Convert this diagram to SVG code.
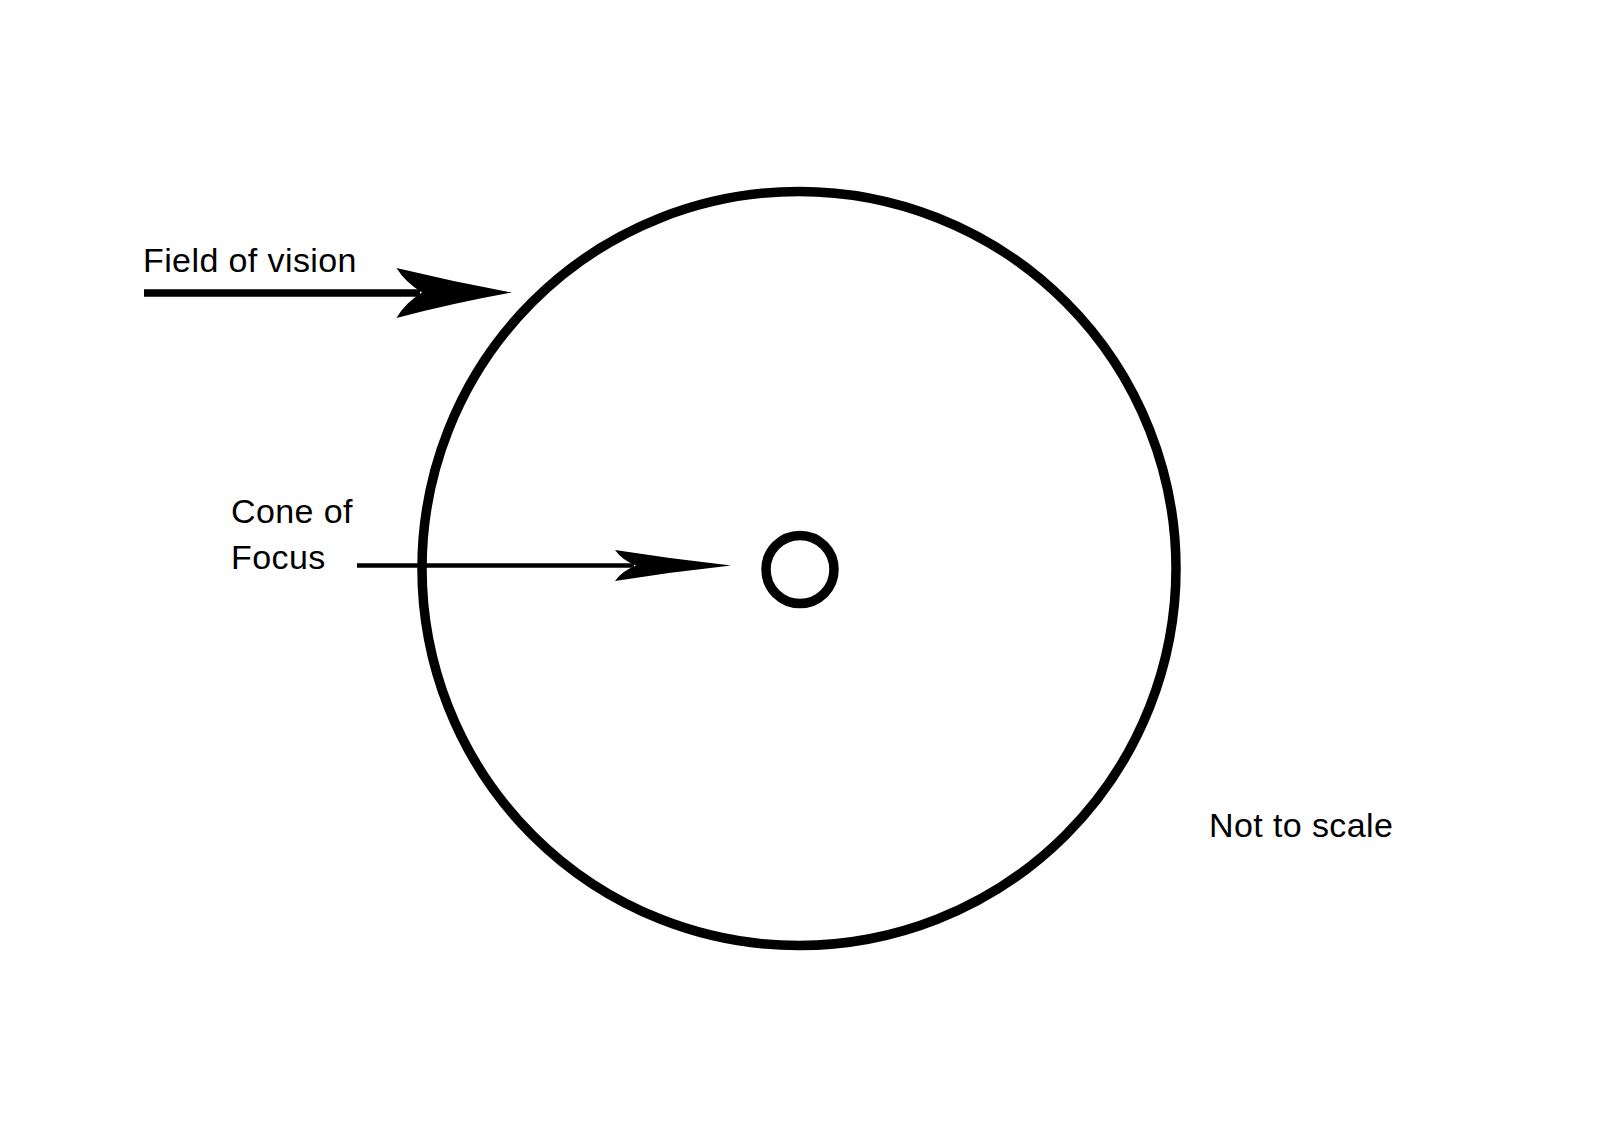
<svg xmlns="http://www.w3.org/2000/svg" width="1600" height="1143" viewBox="0 0 1600 1143">
<style>
.lbl{font-family:"Liberation Sans",Arial,sans-serif;font-size:34px;fill:#000;letter-spacing:0.4px}
.ring{fill:none;stroke:#000}
.shaft{stroke:#000;fill:none}
.head{fill:#000;stroke:none}
</style>
<rect width="1600" height="1143" fill="#fff"/>
<g id="field-of-vision">
<circle class="ring" cx="799" cy="568.5" r="377" stroke-width="9.5"/>
</g>
<g id="cone-of-focus">
<circle class="ring" cx="800" cy="569.5" r="34" stroke-width="9.5"/>
</g>
<g id="labels">
<text class="lbl" x="143" y="272">Field of vision</text>
<text class="lbl" x="231" y="523">Cone of</text>
<text class="lbl" x="231" y="569">Focus</text>
<text class="lbl" x="1209" y="837">Not to scale</text>
</g>
<g id="connectors">
<line class="shaft" x1="144" y1="293" x2="420" y2="293" stroke-width="7.5"/>
<path class="head" d="M512 292.5 Q454 282 396.5 268 Q405 282 422 292.5 Q405 303 396.5 318 Q454 303 512 292.5 Z"/>
<line class="shaft" x1="357" y1="565.6" x2="634" y2="565.6" stroke-width="4.5"/>
<path class="head" d="M731 565.6 Q672 559 615 550 Q622 560 636 565.6 Q622 571 615 581 Q672 572 731 565.6 Z"/>
</g>
</svg>
